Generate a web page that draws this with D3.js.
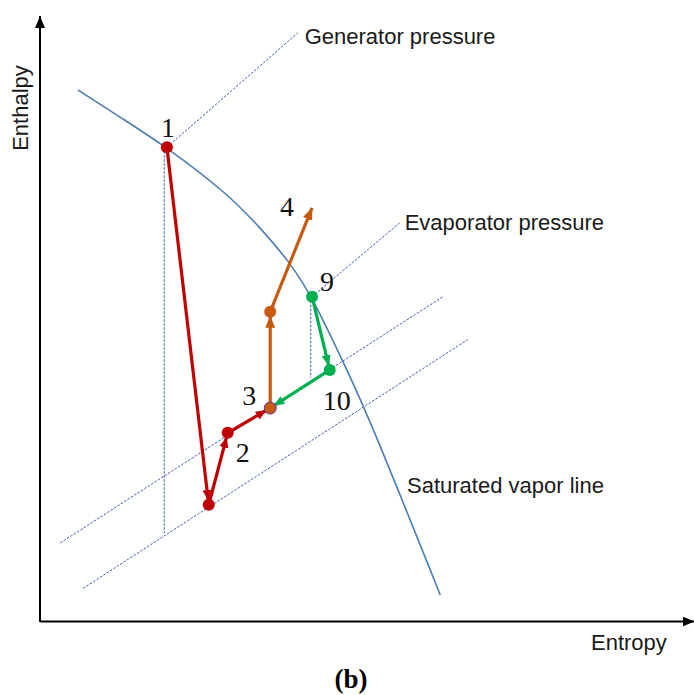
<!DOCTYPE html>
<html>
<head>
<meta charset="utf-8">
<script src="https://cdn.jsdelivr.net/npm/d3@7"></script>
<style>
  html, body { margin: 0; padding: 0; background: #fff; }
  svg { display: block; }
</style>
</head>
<body>
<svg id="chart" width="694" height="695"></svg>
<script>
// h–s diagram of the ejector cycle: states in (entropy, enthalpy) units, 0–100 on both axes

// Saturated vapor line
const saturatedVapor = [
  [5.8, 87.8], [12.5, 83.1], [19.4, 78.3], [28.6, 70.7], [33.6, 65.1],
  [38.2, 59.3], [41.6, 53.6], [46.6, 42.3], [50.8, 32.4], [61.2, 4.3]
];

// Isobars (dotted)
const generatorIsobar = [[19.4, 78.3], [39.4, 97.2]];
const evaporatorIsobar = [[41.6, 53.6], [55.0, 65.8]];
const upperIsobar = [[3.1, 12.9], [61.6, 53.6]];
const lowerIsobar = [[6.6, 5.4], [65.4, 46.5]];

// Vertical (isentropic) guides
const isentropes = [
  [[19.0, 78.3], [19.0, 14.5]],
  [[41.4, 53.6], [41.4, 40.2]]
];

// Process paths
const primaryPath = [[19.4, 78.3], [25.8, 19.2], [28.7, 31.1], [35.2, 35.2]];
const compressionPath = [[35.2, 35.2], [35.2, 51.1], [41.6, 68.3]];
const secondaryPath = [[41.6, 53.6], [44.3, 41.5], [35.2, 35.2]];

// State numbers
const stateNames = ["1", "2", "3", "4", "9", "10"];
const stateEntropy = [19.4, 28.7, 35.2, 41.6, 41.6, 44.3];
const stateEnthalpy = [78.3, 31.1, 35.2, 68.3, 53.6, 41.5];

const svg = d3.select("#chart");
const x = d3.scaleLinear().domain([0, 100]).range([40, 694]);
const y = d3.scaleLinear().domain([0, 100]).range([621, 16]);

const RED = "#c00000", ORANGE = "#c55a11", GREEN = "#00b050";
const BLUE = "#4a7db3", ISO = "#3b5cb0";

// Arrowhead markers
const defs = svg.append("defs");
function arrow(id, color, len, wid) {
  defs.append("marker")
    .attr("id", id)
    .attr("viewBox", `0 0 ${len} ${wid}`)
    .attr("refX", len).attr("refY", wid / 2)
    .attr("markerUnits", "userSpaceOnUse")
    .attr("markerWidth", len).attr("markerHeight", wid)
    .attr("orient", "auto")
    .append("path")
    .attr("d", `M0,0L${len},${wid / 2}L0,${wid}Z`)
    .attr("fill", color);
}
arrow("ax", "#000", 12, 10);
arrow("ar", RED, 11, 9);
arrow("ao", ORANGE, 12, 10);
arrow("ag", GREEN, 11, 9);

// Axes (no ticks), with arrowheads
svg.append("g").attr("transform", `translate(0,${y(0)})`)
  .call(d3.axisBottom(x).tickValues([]).tickSizeOuter(0))
  .select(".domain").attr("stroke", "#000").attr("stroke-width", 2)
  .attr("marker-end", "url(#ax)");
svg.append("g").attr("transform", `translate(${x(0)},0)`)
  .call(d3.axisLeft(y).tickValues([]).tickSizeOuter(0))
  .select(".domain").attr("stroke", "#000").attr("stroke-width", 2)
  .attr("d", `M0,${y(0) + 1}V${y(100)}`)
  .attr("marker-end", "url(#ax)");

const line = d3.line().x(d => x(d[0])).y(d => y(d[1]));

// Dotted isobars and isentropes
[generatorIsobar, evaporatorIsobar, upperIsobar, lowerIsobar, ...isentropes].forEach(seg => {
  svg.append("path").attr("d", line(seg))
    .attr("fill", "none").attr("stroke", ISO)
    .attr("stroke-width", 1).attr("stroke-dasharray", "2.5,1.5");
});

// Saturated vapor line (smoothed B-spline through the sampled states)
const curveLine = d3.line().x(d => x(d[0])).y(d => y(d[1])).curve(d3.curveBasis);
svg.append("path")
  .attr("d", curveLine(saturatedVapor))
  .attr("fill", "none").attr("stroke", BLUE).attr("stroke-width", 1.6);

// Draw a polyline as arrowed segments; ends at state dots are pulled back slightly
function drawPath(pts, color, markerId, lastIsDot) {
  for (let i = 0; i < pts.length - 1; i++) {
    const x0 = x(pts[i][0]), y0 = y(pts[i][1]);
    let x1 = x(pts[i + 1][0]), y1 = y(pts[i + 1][1]);
    const isDot = i < pts.length - 2 || lastIsDot;
    if (isDot) {
      const dx = x1 - x0, dy = y1 - y0, L = Math.hypot(dx, dy);
      x1 -= dx / L * 4; y1 -= dy / L * 4;
    }
    svg.append("line")
      .attr("x1", x0).attr("y1", y0).attr("x2", x1).attr("y2", y1)
      .attr("stroke", color).attr("stroke-width", 3.2)
      .attr("marker-end", `url(#${markerId})`);
  }
}
drawPath(primaryPath, RED, "ar", true);
drawPath(compressionPath, ORANGE, "ao", false);
drawPath(secondaryPath, GREEN, "ag", true);

// State dots
function dots(pts, color) {
  svg.selectAll(null).data(pts).join("circle")
    .attr("cx", d => x(d[0])).attr("cy", d => y(d[1])).attr("r", 6)
    .attr("fill", color);
}
dots(primaryPath.slice(0, 3), RED);
dots(secondaryPath.slice(0, 2), GREEN);
dots(compressionPath.slice(1, 2), ORANGE);
svg.append("circle")
  .attr("cx", x(compressionPath[0][0])).attr("cy", y(compressionPath[0][1])).attr("r", 6)
  .attr("fill", ORANGE).attr("stroke", "#7030a0").attr("stroke-width", 1);

// State numbers
const numOffset = { "1": [1, -10], "2": [15, 29], "3": [-21, -3], "4": [-25, 8], "9": [15, -6], "10": [7, 40] };
svg.selectAll(null).data(stateNames).join("text")
  .attr("x", (d, i) => x(stateEntropy[i]) + numOffset[d][0])
  .attr("y", (d, i) => y(stateEnthalpy[i]) + numOffset[d][1])
  .attr("text-anchor", "middle")
  .attr("font-family", "'Liberation Serif', 'Times New Roman', serif")
  .attr("font-size", 28).attr("fill", "#111")
  .text(d => d);

// Annotations
const sans = "'Liberation Sans', Arial, Helvetica, sans-serif";
function note(txt, px, py, anchor) {
  svg.append("text").attr("x", px).attr("y", py)
    .attr("text-anchor", anchor || "start")
    .attr("font-family", sans).attr("font-size", 22).attr("fill", "#1a1a1a")
    .text(txt);
}
note("Generator pressure", x(generatorIsobar[1][0]) + 7, y(generatorIsobar[1][1]) + 11);
note("Evaporator pressure", x(evaporatorIsobar[1][0]) + 5, y(evaporatorIsobar[1][1]) + 7);
note("Saturated vapor line", 407, 493);
note("Entropy", 591, 650);

svg.append("text")
  .attr("transform", "translate(28,108) rotate(-90)")
  .attr("text-anchor", "middle")
  .attr("font-family", sans).attr("font-size", 22).attr("fill", "#1a1a1a")
  .text("Enthalpy");

svg.append("text").attr("x", 351).attr("y", 688)
  .attr("text-anchor", "middle")
  .attr("font-family", "'Liberation Serif', 'Times New Roman', serif")
  .attr("font-weight", "bold").attr("font-size", 27).attr("fill", "#000")
  .text("(b)");
</script>
</body>
</html>
